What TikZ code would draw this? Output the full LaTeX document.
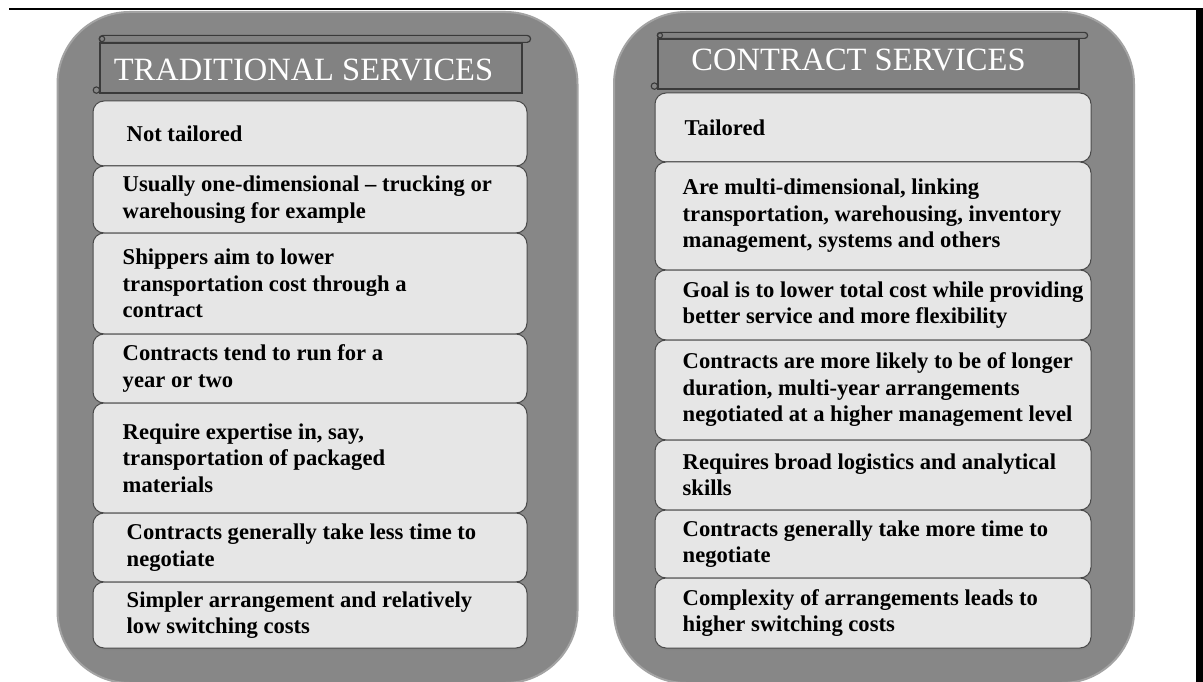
\documentclass[tikz,border=0pt]{standalone}
\usepackage{fontspec}
\setmainfont{Liberation Serif}
\usetikzlibrary{positioning}
\usetikzlibrary{shadows}

\definecolor{panelgray}{HTML}{878787}
\definecolor{panelrim}{HTML}{A3A3A3}
\definecolor{boxfill}{HTML}{E6E6E6}
\definecolor{boxedge}{HTML}{4A4A4A}
\definecolor{scrollfill}{HTML}{828282}
\definecolor{scrolledge}{HTML}{3A3A3A}

\begin{document}
\begin{tikzpicture}[
  x=1pt, y=-1pt,
  panel/.style = {draw=panelrim, line width=2pt, fill=panelgray, rounded corners=72pt,
    minimum width=520pt, minimum height=671pt, inner sep=0pt},
  item/.style = {draw=boxedge, line width=1pt, fill=boxfill, rounded corners=11pt, inner sep=0pt,
    drop shadow={shadow xshift=0.5pt, shadow yshift=-2pt, opacity=.35}},
  itemtext/.style = {align=left, inner sep=0pt, font=\fontsize{22.6}{26.5}\selectfont\bfseries},
  scroll/.style = {draw=scrolledge, line width=1.2pt, fill=scrollfill, inner sep=0pt},
  curl/.style = {draw=scrolledge, line width=1.1pt},
  heading/.style = {text=white, inner sep=0pt, font=\fontsize{32.5}{36}\selectfont}
  ]
	\fill[white] (0,0) rectangle (1203,682);
	\useasboundingbox (0,0) rectangle (1203,682);

	\draw[line width=1.5pt] (9,9) -- (1203,9);
	\fill[black] (1196,9) rectangle (1203,682);

	\node[panel] (lp) at (317.5,347.5) {};
	\node[panel] (rp) at (874,347.5) {};

	% title scrolls
	\node[scroll, minimum width=422pt, minimum height=50pt] (ls) at (311,68) {};
	\draw[scroll, rounded corners=3.5pt] ([yshift=7pt]ls.north west) rectangle ([xshift=8pt]ls.north east);
	\draw[curl] ([xshift=2.5pt,yshift=3.5pt]ls.north west) circle (2.8pt);
	\draw[curl] ([xshift=-3pt,yshift=3.5pt]ls.south west) circle (3.2pt);
	\node[heading] (lh) at (303.5,70) {TRADITIONAL SERVICES};

	\node[scroll, minimum width=421pt, minimum height=50pt] (rs) at (868.5,64) {};
	\draw[scroll, rounded corners=3pt] ([yshift=6pt]rs.north west) rectangle ([xshift=8pt]rs.north east);
	\draw[curl] ([xshift=2.5pt,yshift=3pt]rs.north west) circle (2.6pt);
	\draw[curl] ([xshift=-3pt,yshift=3.5pt]rs.south west) circle (3.2pt);
	\node[heading] (rh) at (858.5,60) {CONTRACT SERVICES};

	% traditional services
	\node[item, minimum width=434pt, minimum height=65pt] (lb1) at (310,133.5) {};
	\node[itemtext, right=34pt of lb1.west] (lt1) {Not tailored};
	\node[item, minimum width=434pt, minimum height=67pt] (lb2) at (310,199.5) {};
	\node[itemtext, right=30pt of lb2.west] (lt2) {Usually one-dimensional -- trucking or\\warehousing for example};
	\node[item, minimum width=434pt, minimum height=101pt] (lb3) at (310,283.5) {};
	\node[itemtext, right=30pt of lb3.west] (lt3) {Shippers aim to lower\\transportation cost through a\\contract};
	\node[item, minimum width=434pt, minimum height=69pt] (lb4) at (310,368.5) {};
	\node[itemtext, right=30pt of lb4.west] (lt4) {Contracts tend to run for a\\year or two};
	\node[item, minimum width=434pt, minimum height=110pt] (lb5) at (310,458) {};
	\node[itemtext, right=30pt of lb5.west] (lt5) {Require expertise in, say,\\transportation of packaged\\materials};
	\node[item, minimum width=434pt, minimum height=69pt] (lb6) at (310,547.5) {};
	\node[itemtext, right=34pt of lb6.west] (lt6) {Contracts generally take less time to\\negotiate};
	\node[item, minimum width=434pt, minimum height=66pt] (lb7) at (310,615) {};
	\node[itemtext, right=34pt of lb7.west] (lt7) {Simpler arrangement and relatively\\low switching costs};

	% contract services
	\node[item, minimum width=436pt, minimum height=69pt] (rb1) at (873,127.5) {};
	\node[itemtext, right=30pt of rb1.west] (rt1) {Tailored};
	\node[item, minimum width=436pt, minimum height=108pt] (rb2) at (873,216) {};
	\node[itemtext, right=28pt of rb2.west] (rt2) {Are multi-dimensional, linking\\transportation, warehousing, inventory\\management, systems and others};
	\node[item, minimum width=436pt, minimum height=70pt] (rb3) at (873,305) {};
	\node[itemtext, right=28pt of rb3.west] (rt3) {Goal is to lower total cost while providing\\better service and more flexibility};
	\node[item, minimum width=436pt, minimum height=100pt] (rb4) at (873,390) {};
	\node[itemtext, right=28pt of rb4.west] (rt4) {Contracts are more likely to be of longer\\duration, multi-year arrangements\\negotiated at a higher management level};
	\node[item, minimum width=436pt, minimum height=70pt] (rb5) at (873,475) {};
	\node[itemtext, right=28pt of rb5.west] (rt5) {Requires broad logistics and analytical\\skills};
	\node[item, minimum width=436pt, minimum height=68pt] (rb6) at (873,544) {};
	\node[itemtext, right=28pt of rb6.west] (rt6) {Contracts generally take more time to\\negotiate};
	\node[item, minimum width=436pt, minimum height=70pt] (rb7) at (873,613) {};
	\node[itemtext, right=28pt of rb7.west] (rt7) {Complexity of arrangements leads to\\higher switching costs};

\end{tikzpicture}
\end{document}
